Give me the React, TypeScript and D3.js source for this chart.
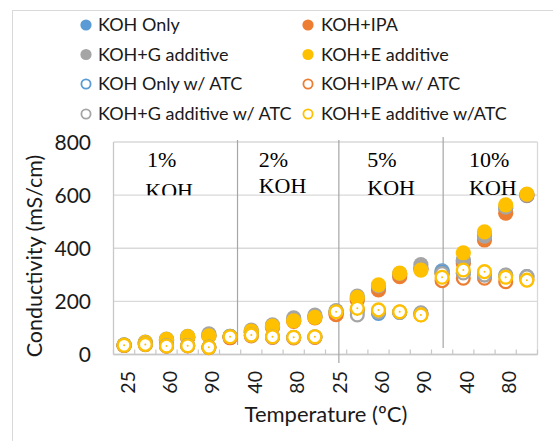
import React from "react";
import * as d3 from "d3";

const categories = ["25","40","60","80","90","25","40","60","80","90","25","40","60","80","90","25","40","60","80","90"];
const tickLabelIdx = [0, 2, 4, 6, 8, 10, 12, 14, 16, 18];
const yTicks = [0, 200, 400, 600, 800];
const groupLabels = ["1%", "2%", "5%", "10%"];

const kohOnly = [35, 44, 55, 65, 72, 68, 86, 105, 130, 142, 160, 210, 255, 300, 325, 315, 350, 450, 550, 598];
const kohIpa = [34, 43, 54, 63, 70, 63, 84, 102, 125, 138, 150, 205, 243, 293, 322, 305, 343, 431, 532, 600];
const kohG = [36, 47, 58, 68, 78, 68, 92, 112, 138, 148, 165, 220, 258, 305, 338, 312, 356, 446, 555, 602];
const kohE = [35, 46, 57, 67, 70, 67, 88, 107, 127, 140, 160, 215, 262, 306, 318, 305, 383, 462, 563, 604];

const kohOnlyAtc = [35, 38, 32, 33, 27, 68, 72, 66, 64, 66, 160, 165, 155, 158, 155, 310, 305, 300, 298, 293];
const kohIpaAtc = [34, 37, 31, 32, 26, 64, 70, 64, 62, 64, 152, 170, 163, 160, 150, 278, 287, 287, 274, 282];
const kohGAtc = [36, 39, 33, 34, 28, 68, 73, 66, 65, 67, 163, 149, 160, 158, 157, 305, 307, 299, 299, 293];
const kohEAtc = [35, 38, 32, 33, 27, 67, 73, 67, 65, 67, 161, 174, 168, 161, 149, 291, 318, 312, 291, 280];

const series = [
  { name: "KOH Only", values: kohOnly, color: "#5B9BD5", hollow: false },
  { name: "KOH+IPA", values: kohIpa, color: "#ED7D31", hollow: false },
  { name: "KOH+G additive", values: kohG, color: "#A5A5A5", hollow: false },
  { name: "KOH+E additive", values: kohE, color: "#FFC000", hollow: false },
  { name: "KOH Only w/ ATC", values: kohOnlyAtc, color: "#5B9BD5", hollow: true },
  { name: "KOH+IPA w/ ATC", values: kohIpaAtc, color: "#ED7D31", hollow: true },
  { name: "KOH+G additive w/ ATC", values: kohGAtc, color: "#A5A5A5", hollow: true },
  { name: "KOH+E additive w/ATC", values: kohEAtc, color: "#FFC000", hollow: true },
];

const FONT = "Lato, 'Open Sans', sans-serif";

export default function App() {
  const left = 113.5, right = 537.5, top = 142, bottom = 354.5;
  const x = d3.scaleBand<number>().domain(categories.map((_, i) => i)).range([left, right]).padding(0);
  const xc = (i: number) => (x(i) as number) + x.bandwidth() / 2;
  const xi = d3.scaleLinear().domain([0, categories.length]).range([left, right]);
  const y = d3.scaleLinear().domain([0, 800]).range([bottom, top]);

  const separators = [
    { at: 5.85, y0: 140, y1: 345 },
    { at: 10.63, y0: 140, y1: 363 },
    { at: 15.55, y0: 137, y1: 348 },
  ];
  const groupPos = [
    { at: 1.58, pctBase: 167, kohAt: 1.5, kohBase: 198 },
    { at: 6.85, pctBase: 167, kohAt: 6.85, kohBase: 193 },
    { at: 11.97, pctBase: 167, kohAt: 11.97, kohBase: 195 },
    { at: 16.77, pctBase: 167, kohAt: 16.77, kohBase: 195 },
  ];

  const legendRows = [25, 54.5, 84, 114];
  const legendCols = [{ mx: 86, tx: 98 }, { mx: 308, tx: 321 }];
  const legendOrder = [0, 1, 2, 3, 4, 5, 6, 7];

  return (
    <svg width={553} height={441} style={{ position: "absolute", left: 0, top: 0, background: "#fff" }} fontFamily={FONT}>
      <rect x={0} y={0} width={553} height={441} fill="#fff" />
      <rect x={12.5} y={10.5} width={600} height={500} fill="none" stroke="#d9d9d9" strokeWidth={1} />

      {/* legend */}
      {legendOrder.map((si, k) => {
        const s = series[si];
        const row = Math.floor(k / 2);
        const col = k % 2;
        const cy = legendRows[row];
        const { mx, tx } = legendCols[col];
        return (
          <g key={s.name}>
            {s.hollow ? (
              <circle cx={mx} cy={cy} r={4.6} fill="#fff" stroke={s.color} strokeWidth={1.8} />
            ) : (
              <circle cx={mx} cy={cy} r={5.6} fill={s.color} />
            )}
            <text x={tx} y={cy} dy="0.36em" fontSize={18} fill="#1a1a1a">{s.name}</text>
          </g>
        );
      })}

      {/* gridlines */}
      {yTicks.map((t) => (
        <line key={t} x1={left} x2={right} y1={y(t)} y2={y(t)} stroke="#d9d9d9" strokeWidth={1.3} />
      ))}
      <line x1={right} x2={right} y1={top} y2={bottom} stroke="#d9d9d9" strokeWidth={1.3} />
      <line x1={left} x2={left} y1={top} y2={bottom} stroke="#c8c8c8" strokeWidth={1.3} />
      <line x1={left} x2={right} y1={bottom} y2={bottom} stroke="#c8c8c8" strokeWidth={1.3} />
      {d3.range(categories.length + 1).map((i) => (
        <line key={i} x1={xi(i)} x2={xi(i)} y1={bottom} y2={bottom - 5} stroke="#c8c8c8" strokeWidth={1.2} />
      ))}

      {/* y tick labels */}
      {yTicks.map((t) => (
        <text key={t} x={91} y={y(t)} dy="0.36em" textAnchor="end" fontSize={21} fill="#1a1a1a">{t}</text>
      ))}

      {/* x tick labels */}
      {tickLabelIdx.map((i) => (
        <text key={i} transform={`translate(${xc(i) + 3.5},371) rotate(-90)`} textAnchor="end" dy="0.36em" fontSize={19.5} fill="#1a1a1a">
          {categories[i]}
        </text>
      ))}

      {/* axis titles */}
      <text transform={`translate(34,256) rotate(-90)`} textAnchor="middle" dy="0.36em" fontSize={21.5} fill="#1a1a1a">
        Conductivity (mS/cm)
      </text>
      <text x={326} y={422} textAnchor="middle" fontSize={22} fill="#1a1a1a">Temperature (ºC)</text>

      {/* separators */}
      {separators.map((s, k) => (
        <line key={k} x1={xi(s.at)} x2={xi(s.at)} y1={s.y0} y2={s.y1} stroke="#a6a6a6" strokeWidth={1.2} />
      ))}

      {/* group labels */}
      <defs>
        <clipPath id="lblclip">
          <rect x={0} y={0} width={553} height={y(600)} />
        </clipPath>
      </defs>
      <g clipPath="url(#lblclip)" fontFamily="'Liberation Serif', 'Times New Roman', serif" fontSize={22} fill="#000">
        {groupPos.map((g, k) => (
          <g key={k}>
            <text x={xi(g.at)} y={g.pctBase}>{groupLabels[k]}</text>
            <text x={xi(g.kohAt)} y={g.kohBase}>KOH</text>
          </g>
        ))}
      </g>

      {/* data */}
      {series.map((s) => (
        <g key={s.name}>
          {s.values.map((v, i) =>
            s.hollow ? (
              <g key={i}>
                <circle cx={xc(i)} cy={y(v)} r={6.4} fill="#fff" stroke={s.color} strokeWidth={2.3} />
                <circle cx={xc(i)} cy={y(v)} r={1} fill={s.color} />
              </g>
            ) : (
              <circle key={i} cx={xc(i)} cy={y(v)} r={7.6} fill={s.color} />
            )
          )}
        </g>
      ))}
    </svg>
  );
}
